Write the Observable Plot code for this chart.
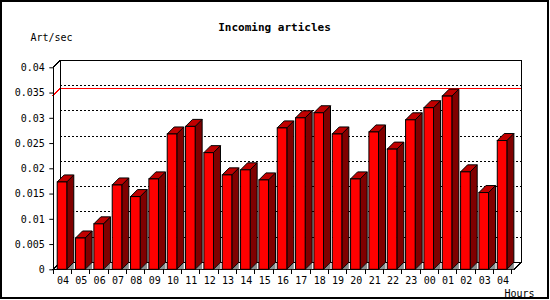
<!DOCTYPE html>
<html><head><meta charset="utf-8">
<script src="https://cdn.jsdelivr.net/npm/d3@7"></script>
<script src="https://cdn.jsdelivr.net/npm/@observablehq/plot@0.6"></script>
<style>body{margin:0;background:#fff}</style>
</head><body><div id="chart"></div>
<script>
const hours = ["04","05","06","07","08","09","10","11","12","13","14","15","16","17","18","19","20","21","22","23","00","01","02","03","04"];
const rates = [0.0173,0.0062,0.0090,0.0167,0.0144,0.0179,0.0268,0.0283,0.0231,0.0187,0.0197,0.0177,0.0280,0.0300,0.0310,0.0268,0.0179,0.0272,0.0238,0.0296,0.0320,0.0343,0.0193,0.0152,0.0255];
const yTicks = [0,0.005,0.01,0.015,0.02,0.025,0.03,0.035,0.04];
const peakRate = 0.0345;
const titleText = "Incoming articles";
const yLabel = "Art/sec";
const xLabel = "Hours";

const data = hours.map((h, i) => ({i, h, v: rates[i]}));
const D = 7;            // 3D depth in px
const INSET_L = 3.9, INSET_R = 4.84;

function bw(x) { return x.bandwidth ? x.bandwidth() : 18.34; }

function backdrop(index, {x, y}, values, dims) {
  const g = d3.create("svg:g").attr("shape-rendering", "crispEdges").attr("fill", "none");
  g.append("rect").attr("x", 1).attr("y", 1).attr("width", dims.width - 3).attr("height", dims.height - 3)
    .attr("stroke", "black").attr("stroke-width", 2);
  const x0 = x(0), x1 = x(hours.length - 1) + bw(x), xr = x1 + 2.5;
  const yb = y(0), yt = y(yTicks[yTicks.length - 1]);
  const bx0 = x0 + D, bx1 = xr + D, byb = yb - D, byt = yt - D;
  for (const t of yTicks.slice(1, -1)) {
    g.append("line").attr("x1", bx0).attr("x2", bx1).attr("y1", y(t) - D).attr("y2", y(t) - D)
      .attr("stroke", "black").attr("stroke-dasharray", "2,2");
  }
  g.append("path").attr("d", `M${x0 - 1},${y(peakRate) + 1}L${bx0},${y(peakRate) - D}H${bx1}`)
    .attr("stroke", "#ff0000");
  g.append("path").attr("stroke", "black").attr("d",
    `M${x0},${yb}V${yt}L${bx0},${byt}H${bx1}V${byb}L${xr},${yb}H${x0}L${bx0},${byb}V${byt}M${bx0},${byb}H${bx1}`);
  return g.node();
}

function sides(index, {x, y}) {
  const g = d3.create("svg:g").attr("stroke", "black").attr("stroke-width", 1);
  for (const d of data) {
    const xl = x(d.i) + INSET_L, xr = x(d.i) + bw(x) - INSET_R;
    const yt = y(d.v), yb = y(0);
    g.append("path").attr("d", `M${xr},${yb}L${xr + D},${yb - D}V${yb}Z`).attr("fill", "#8c8c8c").attr("stroke", "none");
    g.append("path").attr("d", `M${xr},${yt}L${xr + D},${yt - D}V${yb - D}L${xr},${yb}Z`).attr("fill", "#800000");
    g.append("path").attr("d", `M${xl},${yt}L${xl + D},${yt - D}H${xr + D}L${xr},${yt}Z`).attr("fill", "#c00000");
  }
  return g.node();
}

function xTicks(index, {x, y}) {
  const g = d3.create("svg:g").attr("stroke", "black").attr("shape-rendering", "crispEdges");
  const yb = y(0);
  for (let i = 0; i <= hours.length; i++) {
    const px = i < hours.length ? x(i) : x(i - 1) + bw(x);
    g.append("line").attr("x1", px).attr("x2", px).attr("y1", yb).attr("y2", yb + 4.5);
  }
  return g.node();
}

const chart = Plot.plot({
  width: 550, height: 300,
  marginLeft: 53.3, marginRight: 38.3, marginTop: 67.3, marginBottom: 30.7,
  style: {fontFamily: "'DejaVu Sans Mono', monospace", fontSize: "10px", color: "black", background: "white", overflow: "visible"},
  x: {type: "band", domain: d3.range(hours.length), padding: 0, round: false},
  y: {domain: [0, 0.04]},
  marks: [
    backdrop,
    sides,
    Plot.barY(data, {x: "i", y: "v", fill: "#ff0000", stroke: "black", strokeWidth: 1, insetLeft: INSET_L, insetRight: INSET_R}),
    xTicks,
    Plot.axisY({ticks: yTicks, tickSize: 4, tickPadding: 5, label: null, tickFormat: d => String(d)}),
    Plot.axisX({tickSize: 0, tickPadding: 7, label: null, tickFormat: i => hours[i]}),
    Plot.text([titleText], {frameAnchor: "top", dx: -8.5, dy: -37.3, lineAnchor: "bottom", textAnchor: "middle", fontWeight: "bold", fontSize: 11, fill: "black"}),
    Plot.text([yLabel], {frameAnchor: "top-left", dx: -23.3, dy: -26.8, lineAnchor: "bottom", textAnchor: "start", fill: "black"}),
    Plot.text([xLabel], {frameAnchor: "bottom-right", dx: -7.7, dy: 26.7, lineAnchor: "bottom", textAnchor: "start", fill: "black"})
  ]
});
document.getElementById("chart").append(chart);
</script>
</body></html>
